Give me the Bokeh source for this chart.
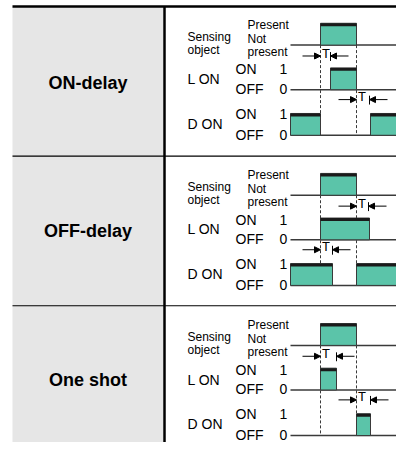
from bokeh.plotting import figure
from bokeh.models import Range1d, Arrow, NormalHead
from bokeh.core.properties import value
from bokeh.embed import file_html
from bokeh.resources import INLINE

# ---------------- data (signal timing, in time units) ----------------
MODES = ["ON-delay", "OFF-delay", "One shot"]
TIME_END = 109
SENSING_HIGH = [(30, 66)]
L_ON_HIGH = [[(40, 66)], [(30, 79)], [(30, 46)]]
D_ON_HIGH = [[(0, 30), (80, 109)], [(0, 42), (66, 109)], [(66, 80)]]
T_UPPER = [(30, 40), (66, 78), (30, 46)]   # T span drawn under sensing row
T_LOWER = [(66, 79), (30, 42), (66, 80)]   # T span drawn under L ON row
EDGES = [30, 66]                            # dashed reference edges
ROW_NAMES = [["Sensing", "object"], ["L ON"], ["D ON"]]
SENSING_STATES = ["Present", "Not", "present"]
STATES = ["ON", "OFF"]
LEVELS = ["1", "0"]

# ---------------- layout ----------------
W, H = 396, 442
STEP = 151.5
AMP = 22
BAR = 3
DY = -5.5          # text baseline correction
GREEN = "#5bc4a9"
LINE = "#3a3a3a"
REG = value("Liberation Sans")

p = figure(width=W, height=H, output_backend="svg", toolbar_location=None,
           x_range=Range1d(0, W), y_range=Range1d(446, 0),
           min_border=0, outline_line_color=None,
           background_fill_color="white", border_fill_color="white")
p.extra_x_ranges = {"t": Range1d(-290, -290 + W)}
p.axis.visible = False
p.grid.visible = False

# table background and rules
p.quad(left=[12], right=[163], top=[6], bottom=[460], fill_color="#e6e6e6", line_color=None)
p.segment(x0=[12], y0=[6], x1=[420], y1=[6], line_color="black", line_width=2.5)
p.segment(x0=[164], y0=[6], x1=[164], y1=[460], line_color="black", line_width=2.5)
p.segment(x0=[12, 12], y0=[157, 308], x1=[420, 420], y1=[157, 308], line_color="black", line_width=1.2)

head = dict(size=6, fill_color="black", line_color="black", line_width=1)


def label(xs, ys, texts, size, **kw):
    p.text(x=xs, y=[y + DY for y in ys], text=texts, text_font=REG, text_font_size=size,
           text_baseline="alphabetic", text_color="black", **kw)


for k, mode in enumerate(MODES):
    off = k * STEP
    b_s, b_l, b_d = 45 + off, 90 + off, 136 + off

    # mode label
    label([87.5], [88.5 + off * 0.99], [mode], "18px", text_font_style="bold", text_align="center")

    # dashed edges
    p.segment(x0=EDGES, y0=[b_s] * 2, x1=EDGES, y1=[b_d] * 2, x_range_name="t",
              line_color=LINE, line_width=1, line_dash="3 2")

    # signals
    for base, highs in ((b_s, SENSING_HIGH), (b_l, L_ON_HIGH[k]), (b_d, D_ON_HIGH[k])):
        p.segment(x0=[0], y0=[base], x1=[TIME_END], y1=[base], x_range_name="t",
                  line_color=LINE, line_width=1.5)
        lefts = [h[0] for h in highs]
        rights = [h[1] for h in highs]
        p.quad(left=lefts, right=rights, top=[base - AMP] * len(highs), bottom=[base] * len(highs),
               x_range_name="t", fill_color=GREEN, line_color=LINE, line_width=1)
        p.quad(left=lefts, right=rights, top=[base - AMP] * len(highs),
               bottom=[base - AMP + BAR] * len(highs), x_range_name="t",
               fill_color="#1a1a1a", line_color=None)

    # T markers
    for (ta, tb), ay in ((T_UPPER[k], 56 + off), (T_LOWER[k], 100 + off)):
        p.add_layout(Arrow(end=NormalHead(**head), x_start=ta - 18, y_start=ay, x_end=ta, y_end=ay,
                           line_width=1, line_color="black", x_range_name="t"))
        p.add_layout(Arrow(end=NormalHead(**head), x_start=tb + 18, y_start=ay, x_end=tb, y_end=ay,
                           line_width=1, line_color="black", x_range_name="t"))
        p.segment(x0=[tb], y0=[ay - 4], x1=[tb], y1=[ay + 5], x_range_name="t",
                  line_color="black", line_width=1)
        label([ta + 1.5], [ay + 2.5], ["T"], "13px", x_range_name="t")

    # row labels
    label([187, 187], [42 + off, 55.5 + off], ROW_NAMES[0], "12px")
    label([247, 247, 247], [30 + off, 44 + off, 57 + off], SENSING_STATES, "12px")
    label([187, 187], [85 + off, 130 + off], ROW_NAMES[1] + ROW_NAMES[2], "14px")
    label([235] * 4, [75 + off, 95 + off, 120 + off, 141 + off], STATES + STATES, "14px")
    label([279] * 4, [75 + off, 95 + off, 120 + off, 141 + off], LEVELS + LEVELS, "14px")

open("out.html", "w").write(file_html(p, INLINE))
